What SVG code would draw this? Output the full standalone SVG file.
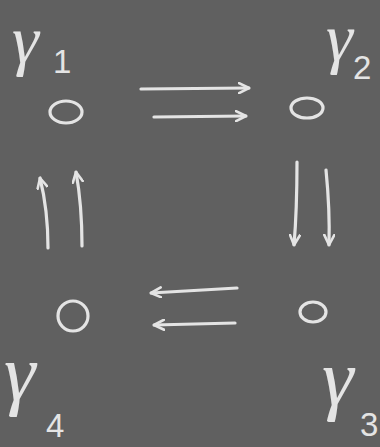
<svg xmlns="http://www.w3.org/2000/svg" width="380" height="447" viewBox="0 0 380 447">
<style>
.bg{fill:#606060}
.n{fill:none;stroke:#e4e4e4;stroke-width:3.2;stroke-linecap:round}
.c{fill:none;stroke:#e4e4e4;stroke-width:3.2;stroke-linecap:round;stroke-linejoin:round}
.g{fill:#e4e4e4;font-family:"Liberation Serif",serif;font-style:italic;font-size:68px}
.gb{font-size:80px}
.s{font-style:normal;font-family:"Liberation Sans",sans-serif;font-size:33px}
</style>
<defs>
<marker id="ah" viewBox="0 0 12 12" refX="11" refY="6" markerWidth="12" markerHeight="12" markerUnits="userSpaceOnUse" orient="auto">
<polyline points="1,1 11,6 1,11" fill="none" stroke="#e4e4e4" stroke-width="2.6" stroke-linecap="round" stroke-linejoin="round"/>
</marker>
</defs>
<rect class="bg" x="0" y="0" width="380" height="447"/>
<g id="node-g1">
<ellipse class="n" cx="66" cy="112" rx="16" ry="11"/>
<text class="g" x="12" y="63">γ<tspan class="s" x="53" y="73">1</tspan></text>
</g>
<g id="node-g2">
<ellipse class="n" cx="307" cy="108" rx="16" ry="10"/>
<text class="g" x="326" y="61">γ<tspan class="s" x="353" y="79">2</tspan></text>
</g>
<g id="node-g3">
<ellipse class="n" cx="313" cy="312" rx="13" ry="10"/>
<text class="g gb" x="322" y="405">γ<tspan class="s" x="360" y="436">3</tspan></text>
</g>
<g id="node-g4">
<ellipse class="n" cx="73" cy="316" rx="15" ry="15"/>
<text class="g gb" x="4" y="400">γ<tspan class="s" x="46" y="437">4</tspan></text>
</g>
<g id="connectors">
<path class="c" d="M141,89 L249,88" marker-end="url(#ah)"/>
<path class="c" d="M154,117 L246,116" marker-end="url(#ah)"/>
<path class="c" d="M297,162 Q297,210 294,245" marker-end="url(#ah)"/>
<path class="c" d="M326,170 Q330,210 329,245" marker-end="url(#ah)"/>
<path class="c" d="M237,288 Q200,290 151,293" marker-end="url(#ah)"/>
<path class="c" d="M235,323 L154,325" marker-end="url(#ah)"/>
<path class="c" d="M48,248 Q48,210 40,178" marker-end="url(#ah)"/>
<path class="c" d="M82,246 Q82,205 76,172" marker-end="url(#ah)"/>
</g>
</svg>
